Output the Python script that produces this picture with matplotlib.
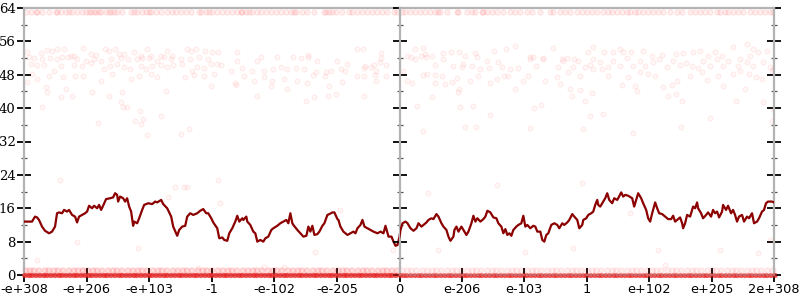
import matplotlib
matplotlib.use("Agg")
import matplotlib.pyplot as plt
import numpy as np
from matplotlib.ticker import MultipleLocator, FixedLocator, FixedFormatter

# ---------------- data ----------------
# x positions are bucket indices along the ordered float range (0..750)
tick_buckets = [0, 62.5, 125, 187.5, 250, 312.5, 375, 437.5, 500, 562.5, 625, 687.5, 750]
tick_labels = ["-e+308", "-e+206", "-e+103", "-1", "-e-102", "-e-205", "0",
               "e-206", "e-103", "1", "e+102", "e+205", "2e+308"]

# moving average (dark red line)
line_x = [0, 8, 9, 11, 13, 15, 18, 21, 25, 28, 31, 33, 35, 38, 40, 43, 45, 48, 51, 53, 55, 58, 61, 63, 65,
          68, 70, 73, 75, 77, 79, 82, 86, 89, 91, 93, 94, 96, 99, 101, 103, 105, 107, 109, 110, 113, 115,
          118, 120, 124, 128, 131, 133, 137, 139, 143, 147, 149, 153, 155, 158, 161, 163, 166, 169, 173,
          176, 179, 182, 184, 187, 189, 193, 195, 198, 200, 203, 205, 208, 211, 213, 215, 218, 219, 222,
          223, 226, 229, 231, 233, 236, 239, 241, 244, 247, 249, 253, 256, 259, 262, 264, 266, 268, 269,
          273, 276, 279, 282, 284, 286, 288, 290, 293, 295, 298, 300, 303, 305, 308, 310, 313, 314, 316,
          319, 323, 326, 329, 331, 333, 336, 338, 340, 343, 346, 349, 353, 356, 359, 361, 363, 364, 367,
          369, 371, 373, 375, 376, 378, 381, 383, 386, 389, 392, 394, 397, 399, 402, 404, 407, 409, 412,
          414, 417, 419, 422, 424, 426, 429, 430, 432, 434, 437, 439, 442, 444, 447, 449, 451, 453, 456,
          459, 461, 463, 466, 469, 472, 474, 477, 479, 481, 483, 485, 487, 489, 492, 494, 497, 499, 501,
          503, 506, 509, 511, 513, 516, 518, 520, 522, 524, 527, 530, 533, 535, 538, 540, 543, 545, 548,
          550, 553, 555, 558, 559, 562, 564, 567, 569, 571, 573, 574, 576, 579, 581, 583, 585, 588, 590,
          593, 594, 597, 599, 601, 604, 608, 610, 612, 614, 617, 619, 622, 624, 626, 628, 631, 633, 635,
          638, 641, 644, 647, 649, 651, 653, 656, 658, 659, 661, 663, 666, 669, 671, 673, 674, 677, 679,
          682, 684, 687, 689, 691, 693, 695, 698, 699, 702, 704, 707, 709, 711, 713, 715, 718, 720, 723,
          725, 728, 730, 733, 735, 738, 740, 742, 744, 748, 750]
line_y = [12.8, 12.8, 13.2, 14.0, 13.8, 13.2, 11.6, 10.6, 10.0, 10.4, 11.6, 14.8, 15.0, 14.8, 15.6, 15.2,
          15.6, 14.4, 14.0, 12.6, 14.0, 14.4, 14.8, 15.2, 16.6, 16.0, 16.6, 16.0, 16.8, 15.6, 16.6, 18.2,
          18.4, 18.6, 19.6, 19.2, 17.6, 18.8, 18.4, 17.6, 18.4, 16.4, 15.2, 11.8, 12.8, 12.4, 13.6, 15.6,
          16.8, 17.2, 17.0, 17.6, 17.4, 18.0, 17.0, 16.0, 14.0, 11.6, 9.4, 10.8, 11.6, 11.8, 14.0, 14.8,
          14.4, 14.8, 15.4, 15.8, 14.8, 14.8, 13.6, 12.6, 11.2, 8.8, 9.0, 8.4, 8.2, 10.0, 11.2, 12.8, 14.2,
          12.8, 13.6, 13.2, 14.0, 12.8, 12.0, 10.4, 10.0, 8.0, 8.4, 8.0, 8.8, 9.2, 10.8, 11.2, 11.8, 12.4,
          12.8, 13.2, 12.4, 14.8, 12.4, 12.0, 10.8, 10.0, 9.2, 9.4, 11.6, 10.4, 11.8, 9.6, 9.8, 10.4, 11.8,
          12.4, 14.4, 14.6, 15.0, 15.0, 13.4, 13.2, 11.6, 10.4, 9.6, 10.0, 10.4, 10.0, 11.2, 12.0, 13.2,
          11.6, 11.2, 10.8, 10.4, 10.0, 10.4, 10.0, 11.8, 10.0, 9.2, 9.2, 8.0, 7.0, 7.2, 9.2, 10.8, 12.4,
          12.8, 12.4, 11.2, 10.6, 11.2, 12.4, 11.6, 12.0, 12.6, 13.2, 13.6, 13.4, 14.6, 14.0, 12.4, 11.6,
          10.8, 9.2, 8.2, 9.2, 10.8, 11.6, 10.4, 11.6, 10.8, 9.6, 10.4, 12.4, 14.2, 12.8, 13.6, 12.8, 13.4,
          14.0, 15.4, 15.0, 13.8, 13.6, 12.4, 11.6, 10.0, 11.0, 9.6, 10.0, 9.4, 10.8, 11.6, 12.0, 12.4,
          14.2, 11.6, 12.0, 11.2, 11.8, 11.6, 10.4, 10.4, 8.4, 8.0, 9.6, 10.0, 12.0, 12.4, 12.0, 11.2, 12.4,
          12.0, 12.6, 13.2, 14.6, 14.0, 13.2, 11.2, 12.0, 13.2, 13.6, 14.4, 14.8, 15.2, 16.8, 18.0, 16.8,
          16.4, 17.6, 18.4, 19.6, 18.0, 17.2, 18.4, 18.0, 18.4, 19.8, 18.8, 19.2, 19.0, 18.4, 16.4, 18.0,
          19.6, 18.4, 17.2, 15.6, 13.6, 12.8, 14.8, 17.4, 16.0, 14.8, 14.6, 14.0, 13.4, 13.4, 14.2, 12.8,
          13.2, 13.8, 12.4, 11.2, 12.4, 14.4, 14.0, 16.4, 16.0, 17.4, 16.0, 14.8, 13.6, 14.4, 15.0, 14.0,
          15.6, 14.8, 15.2, 13.8, 15.2, 16.8, 15.6, 16.6, 14.8, 15.6, 14.4, 12.8, 14.0, 14.4, 12.8, 14.0,
          13.6, 14.8, 12.4, 12.8, 13.6, 15.2, 15.6, 17.2, 17.6, 17.6, 17.4]

# scattered samples (bucket, bits)
cluster_x = [3, 17, 23, 28, 33, 40, 47, 50, 59, 67, 72, 81, 85, 91, 95, 100, 110, 117, 123, 127, 137, 143,
             148, 163, 167, 172, 181, 188, 194, 213, 333, 339, 284, 357,
             5, 10, 18, 26, 33, 38, 44, 53, 62, 70, 77, 87, 97, 104, 113, 118, 125, 133, 140, 147, 157, 166,
             175, 184, 193, 213, 233, 237, 253, 269, 277, 284, 293, 313, 323, 341, 347, 350, 356, 357, 362,
             7, 13, 20, 30, 37, 50, 58, 67, 80, 86, 93, 100, 106, 117, 122, 128, 137, 143, 149, 158, 168,
             173, 180, 187, 197, 207, 218, 228, 240, 249, 257, 263, 272, 280, 292, 302, 307, 317, 321, 340,
             352,
             3, 8, 13, 25, 39, 51, 59, 77, 88, 107, 115, 127, 133, 161, 170, 180, 190, 211, 220, 230, 240,
             248, 260, 273, 283, 289, 301, 305, 318, 333, 340, 351, 352, 362,
             18, 22, 23, 37, 42, 48, 68, 74, 85, 97, 98, 99, 103, 111, 116, 117, 119, 137, 142, 157, 165,
             123, 187, 212, 233, 247, 263, 282, 290, 304, 312, 340,
             391, 399, 383, 387, 397, 401, 408, 419, 427, 435, 441, 451, 453, 470, 482, 491, 529, 506, 509,
             519, 538, 543, 550, 564, 569, 580, 589, 596, 599, 607, 619, 628, 638, 652, 659, 669, 676, 684,
             691, 698, 709, 723, 729, 734, 743, 716, 726,
             379, 391, 402, 411, 419, 429, 438, 439, 448, 456, 463, 465, 474, 478, 486, 494, 506, 512, 519,
             534, 539, 549, 554, 561, 566, 569, 576, 578, 584, 589, 596, 603, 609, 616, 621, 629, 635, 643,
             649, 656, 662, 668, 674, 679, 686, 693, 699, 704, 714, 723, 729, 739, 746, 749,
             383, 388, 399, 403, 411, 418, 411, 421, 428, 433, 435, 446, 454, 466, 473, 480, 484, 499, 504,
             521, 533, 536, 544, 546, 556, 569, 584, 598, 604, 611, 616, 624, 631, 639, 648, 653, 666, 678,
             683, 694, 699, 709, 716, 725, 732, 738, 748,
             393, 399, 408, 434, 436, 441, 449, 452, 466, 491, 506, 510, 517, 548, 556, 561, 559, 566, 568,
             579, 609, 613, 644, 652, 658, 657, 686, 712, 721, 739, 749, 748,
             36, 53, 114, 13, 58, 151, 160, 163, 144, 194, 196, 174, 291, 316, 369, 473, 558, 404, 414, 501,
             549, 606, 634, 696, 641, 734, 746, 240, 260]
cluster_y = [53.4, 53.3, 54.0, 53.8, 54.2, 54.1, 52.6, 52.6, 54.5, 53.0, 52.8, 54.2, 53.8, 54.2, 53.0, 53.0,
             53.4, 52.5, 54.1, 52.6, 52.5, 53.8, 52.6, 54.2, 53.6, 54.2, 53.6, 53.4, 53.4, 53.4, 54.2, 54.2,
             52.8, 53.3,
             52.2, 52.0, 51.8, 52.0, 51.8, 52.2, 52.2, 51.8, 51.4, 51.8, 51.4, 51.8, 52.0, 51.8, 51.8, 52.0,
             52.0, 51.4, 52.2, 51.8, 51.8, 51.8, 52.2, 51.8, 50.6, 51.4, 51.4, 52.2, 52.2, 52.2, 52.0, 52.2,
             51.4, 51.2, 50.6, 50.2, 49.8, 50.4, 51.0, 52.0, 50.4,
             50.6, 50.4, 50.4, 49.0, 50.2, 50.4, 50.2, 50.9, 49.4, 50.2, 50.6, 49.8, 49.4, 50.2, 49.4, 50.2,
             50.4, 49.8, 50.4, 50.6, 49.0, 49.8, 49.6, 50.6, 50.4, 49.0, 49.6, 49.0, 48.8, 49.4, 49.8, 49.3,
             49.6, 49.4, 48.6, 48.6, 49.0, 49.4, 49.0, 49.6, 49.0,
             46.2, 48.2, 46.9, 47.6, 47.4, 47.7, 47.8, 46.4, 48.2, 46.9, 47.8, 48.2, 47.4, 47.4, 48.0, 47.8,
             48.2, 46.1, 47.7, 46.4, 47.4, 46.4, 46.9, 46.6, 46.1, 48.0, 47.7, 45.4, 46.2, 47.7, 47.8, 48.0,
             46.4, 47.8,
             40.2, 45.0, 43.8, 42.6, 44.6, 43.0, 43.8, 36.4, 42.9, 41.4, 43.8, 40.2, 40.2, 37.0, 39.2, 36.2,
             37.4, 38.1, 44.1, 33.8, 34.9, 33.6, 45.4, 45.6, 43.0, 45.3, 44.6, 41.6, 42.6, 42.9, 43.4, 43.0,
             54.2, 54.4, 52.5, 52.2, 52.6, 53.0, 52.5, 53.2, 53.4, 53.4, 52.6, 53.2, 52.2, 53.8, 54.2, 54.8,
             54.4, 52.2, 52.2, 52.1, 51.8, 52.1, 51.8, 53.4, 54.6, 53.4, 53.4, 54.1, 53.4, 53.4, 53.8, 52.6,
             52.8, 53.0, 53.3, 53.4, 53.8, 52.6, 53.4, 52.6, 54.6, 55.4, 54.2, 53.4, 53.6, 51.8, 52.6,
             49.0, 51.8, 52.2, 50.4, 51.8, 50.2, 49.8, 50.6, 50.2, 49.4, 51.2, 49.6, 51.0, 49.8, 49.4, 49.6,
             51.8, 50.1, 51.8, 49.8, 51.4, 49.8, 51.2, 49.8, 50.4, 51.8, 51.0, 49.4, 49.8, 51.4, 50.2, 52.0,
             50.2, 51.4, 50.2, 51.0, 51.8, 49.8, 51.2, 50.4, 50.9, 50.2, 49.6, 51.4, 50.2, 51.8, 50.2, 51.4,
             50.2, 51.0, 50.2, 51.0, 49.8, 49.4,
             46.6, 46.1, 48.0, 48.2, 48.0, 47.7, 46.1, 45.8, 46.2, 47.2, 44.6, 46.6, 47.8, 46.1, 47.0, 47.6,
             47.7, 46.6, 47.8, 46.4, 47.4, 45.8, 48.6, 44.6, 47.8, 49.3, 47.8, 45.6, 47.4, 45.2, 48.6, 48.2,
             47.6, 45.0, 45.6, 46.4, 47.7, 48.6, 46.8, 47.8, 45.2, 48.2, 49.0, 48.2, 47.4, 47.0, 49.0,
             40.5, 34.6, 42.6, 43.8, 40.2, 35.4, 40.5, 35.4, 38.4, 44.6, 35.2, 40.0, 40.8, 43.0, 44.4, 41.8,
             35.0, 38.2, 43.6, 38.6, 34.1, 44.2, 43.0, 43.4, 41.8, 35.4, 37.6, 41.8, 44.6, 41.4, 39.8, 37.0,
             22.8, 7.9, 6.5, 3.6, 1.2, 21.0, 21.2, 21.0, 18.7, 22.8, 17.3, 1.7, 5.5, 15.6, 6.0, 21.6, 22.0,
             19.7, 6.0, 5.5, 6.5, 14.9, 6.0, 6.0, 2.4, 5.3, 8.4, 2.0, 1.8]

# samples in the 63-bit row
top_row_x = [2, 7, 12, 13, 18, 25, 32, 33, 37, 42, 45, 48, 53, 58, 62, 65, 67, 70, 72, 75, 77, 82, 85, 87,
             90, 93, 98, 107, 110, 113, 118, 122, 125, 127, 132, 137, 143, 148, 152, 157, 162, 167, 175,
             177, 182, 185, 188, 193, 198, 203, 208, 213, 217, 218, 222, 225, 228, 233, 237, 242, 247, 252,
             257, 262, 267, 270, 272, 278, 283, 290, 300, 302, 305, 308, 312, 318, 325, 328, 333, 338, 343,
             348, 353, 358, 363, 370, 373,
             378, 381, 386, 391, 396, 401, 406, 411, 414, 416, 423, 433, 434, 443, 448, 451, 458, 459, 463,
             468, 473, 479, 486, 491, 496, 503, 508, 516, 526, 529, 536, 541, 546, 553, 558, 563, 568, 573,
             579, 584, 588, 593, 598, 603, 606, 611, 614, 619, 624, 629, 634, 639, 646, 653, 658, 666, 671,
             676, 681, 686, 693, 696, 701, 704, 709, 714, 719, 726, 731, 736, 741, 746, 749]

# samples in the 1-bit row
one_row_x = [1, 5, 9, 14, 20, 24, 29, 33, 38, 44, 49, 53, 58, 63, 68, 72, 77, 83, 88, 92, 97, 103, 108, 113,
             117, 122, 128, 133, 137, 142, 148, 153, 158, 162, 167, 173, 178, 182, 187, 193, 198, 203, 207,
             212, 218, 223, 228, 232, 237, 243, 248, 252, 257, 263, 268, 273, 277, 282, 288, 293, 297, 302,
             308, 313, 318, 322, 327, 333, 338, 342, 347, 353, 358, 362, 367, 372, 378, 383, 387, 392, 398,
             403, 408, 412, 417, 423, 428, 432, 437, 443, 448, 452, 457, 463, 468, 472, 477, 483, 488, 492,
             497, 503, 508, 512, 517, 523, 528, 532, 537, 543, 548, 552, 557, 563, 568, 572, 577, 583, 588,
             592, 597, 603, 608, 612, 617, 623, 628, 632, 637, 643, 648, 652, 657, 663, 668, 672, 677, 683,
             688, 692, 697, 703, 708, 712, 717, 723, 728, 732, 737, 743, 748]

# samples in the 0-bit row (exact results, very dense)
zero_row_x = [0, 4, 7, 11, 15, 19, 22, 26, 30, 34, 37, 41, 45, 49, 52, 56, 60, 64, 67, 71, 75, 79, 82, 86,
              90, 94, 97, 101, 105, 109, 112, 116, 120, 124, 127, 131, 135, 139, 142, 146, 150, 154, 157,
              161, 165, 169, 172, 176, 180, 184, 187, 191, 195, 199, 202, 206, 210, 214, 217, 221, 225, 229,
              232, 236, 240, 244, 247, 251, 255, 259, 262, 266, 270, 274, 277, 281, 285, 289, 292, 296, 300,
              304, 307, 311, 315, 319, 322, 326, 330, 334, 337, 341, 345, 349, 352, 356, 360, 364, 367, 371,
              375, 379, 382, 386, 390, 394, 397, 401, 405, 409, 412, 416, 420, 424, 427, 431, 435, 439, 442,
              446, 450, 454, 457, 461, 465, 469, 472, 476, 480, 484, 487, 491, 495, 499, 502, 506, 510, 514,
              517, 521, 525, 529, 532, 536, 540, 544, 547, 551, 555, 559, 562, 566, 570, 574, 577, 581, 585,
              589, 592, 596, 600, 604, 607, 611, 615, 619, 622, 626, 630, 634, 637, 641, 645, 649, 652, 656,
              660, 664, 667, 671, 675, 679, 682, 686, 690, 694, 697, 701, 705, 709, 712, 716, 720, 724, 727,
              731, 735, 739, 742, 746, 750]

top_row_bits = 63
one_row_bits = 1.1
zero_row_bits = 0

# ---------------- figure ----------------
fig = plt.figure(figsize=(8, 3), dpi=100)
W, H = 800, 300
x0, xm, x1 = 24, 399.5, 774
yb, yt = 275, 8
ax1 = fig.add_axes([x0 / W, 1 - yb / H, (xm - x0) / W, (yb - yt) / H])
ax2 = fig.add_axes([xm / W, 1 - yb / H, (x1 - xm) / W, (yb - yt) / H])

pt_face = (1.0, 0.15, 0.15, 0.04)
pt_edge = (1.0, 0.15, 0.15, 0.08)
spine_col = "#b3b3b3"

for ax, lo, hi in ((ax1, 0, 375), (ax2, 375, 750)):
    ax.set_xlim(lo, hi)
    ax.set_ylim(0, 64)
    ax.scatter(cluster_x, cluster_y, s=13, facecolor=pt_face, edgecolor=pt_edge,
               linewidths=0.7, clip_on=True, zorder=2)
    ax.scatter(top_row_x, [top_row_bits] * len(top_row_x), s=14, facecolor=(1, 0.15, 0.15, 0.07),
               edgecolor=(1, 0.15, 0.15, 0.12), linewidths=0.7, zorder=2)
    ax.scatter(one_row_x, [one_row_bits] * len(one_row_x), s=14, facecolor=(1, 0.15, 0.15, 0.07),
               edgecolor=(1, 0.15, 0.15, 0.11), linewidths=0.7, zorder=2, clip_on=False)
    ax.scatter(zero_row_x, [zero_row_bits] * len(zero_row_x), s=11, facecolor=(0.92, 0.12, 0.12, 0.5),
               edgecolor=(0.92, 0.12, 0.12, 0.3), linewidths=0.5, zorder=3, clip_on=False)
    ax.plot(line_x, line_y, color="#8b0000", lw=1.6, zorder=4, solid_joinstyle="round")
    for s in ax.spines.values():
        s.set_color(spine_col)
        s.set_linewidth(1.6)
    ax.yaxis.set_major_locator(MultipleLocator(8))
    ax.yaxis.set_minor_locator(MultipleLocator(4))
    ax.tick_params(axis="both", which="major", direction="inout", length=10, width=1.3,
                   color="black", labelsize=9.5, pad=1)
    ax.tick_params(axis="y", which="minor", direction="inout", length=5, width=0.9, color="#555555")
    ax.tick_params(axis="x", which="both", top=False)

ax1.spines["right"].set_visible(False)
ax1.tick_params(axis="y", which="both", left=True, right=False)
ax2.tick_params(axis="y", which="both", left=True, right=True, labelleft=False)

ax1.xaxis.set_major_locator(FixedLocator(tick_buckets[:7]))
ax1.xaxis.set_major_formatter(FixedFormatter(tick_labels[:7]))
ax2.xaxis.set_major_locator(FixedLocator(tick_buckets[7:]))
ax2.xaxis.set_major_formatter(FixedFormatter(tick_labels[7:]))

for ax in (ax1, ax2):
    for lab in ax.get_xticklabels():
        lab.set_fontfamily("DejaVu Sans")
        lab.set_fontsize(9.3)
for lab in ax1.get_yticklabels():
    lab.set_fontfamily("DejaVu Serif")
    lab.set_fontsize(9.5)

fig.savefig("out.png", dpi=100, facecolor="white")
